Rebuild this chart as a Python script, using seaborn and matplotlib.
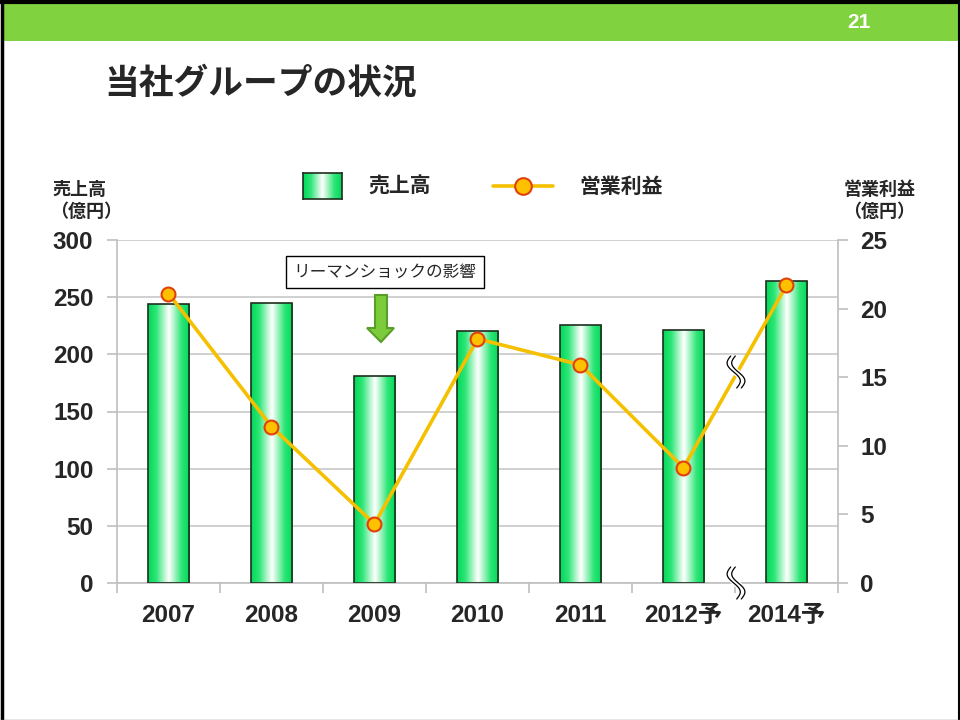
import numpy as np
import pandas as pd
import matplotlib
matplotlib.use("Agg")
import matplotlib.pyplot as plt
import matplotlib.patches as mpatches
from matplotlib.lines import Line2D
from matplotlib.colors import LinearSegmentedColormap
import seaborn as sns

## Data
years = ["2007", "2008", "2009", "2010", "2011", "2012予", "2014予"]
sales = [244, 245, 181, 220, 226, 221, 264]          # 売上高 (億円), left axis
profit = [21.1, 11.4, 4.3, 17.8, 15.9, 8.4, 21.7]    # 営業利益 (億円), right axis
left_ticks = [0, 50, 100, 150, 200, 250, 300]
right_ticks = [0, 5, 10, 15, 20, 25]

df = pd.DataFrame({"year": years, "sales": sales, "profit": profit})

## Style
sns.set_theme(style="white")
plt.rcParams["font.family"] = ["Liberation Sans", "Noto Sans CJK JP"]
plt.rcParams["font.weight"] = "bold"
cjk = ["Noto Sans CJK JP", "DejaVu Sans"]
grey = "#BFBFBF"

fig = plt.figure(figsize=(9.6, 7.2), dpi=100)


# helpers: pixel position -> figure fraction
def fx(x):
    return x / 960


def fy(y):
    return 1 - y / 720


# bar gradient (green edges, white centre)
bar_cmap = LinearSegmentedColormap.from_list(
    "bar", [(0, "#ffffff"), (0.22, "#b4f6cc"), (0.6, "#2fe678"), (1, "#00d858")])
grad = np.abs(np.linspace(-1, 1, 256))[None, :]

## Slide decoration
fig.add_artist(mpatches.Rectangle((fx(3), fy(41)), fx(958) - fx(3), fy(4) - fy(41),
                                  transform=fig.transFigure, color="#80D23F", lw=0))
fig.add_artist(Line2D([fx(1.5), fx(1.5)], [0, 1], transform=fig.transFigure,
                      color="black", lw=2.5))
fig.add_artist(Line2D([0, 1], [fy(2), fy(2)], transform=fig.transFigure,
                      color="black", lw=3))
fig.add_artist(Line2D([fx(959), fx(959)], [0, 1], transform=fig.transFigure,
                      color="black", lw=1.5))
fig.add_artist(Line2D([0, 1], [fy(719.5), fy(719.5)], transform=fig.transFigure,
                      color="#808080", lw=1))
fig.text(fx(859), fy(22), "21", color="white", fontsize=15, weight="bold",
         ha="center", va="center")
fig.text(fx(104), fy(83), "当社グループの状況", family=cjk, fontsize=25,
         weight="bold", ha="left", va="center")

## Main axes
ax = fig.add_axes([fx(117), fy(583), fx(838) - fx(117), fy(240) - fy(583)])
sns.barplot(data=df, x="year", y="sales", ax=ax, color="#00d858", saturation=1,
            width=0.4, edgecolor="#1e2e1e", linewidth=1.2)

for patch in ax.patches:
    bb = patch.get_bbox()
    im = ax.imshow(grad, extent=[bb.x0, bb.x1, bb.y0, bb.y1], aspect="auto",
                   cmap=bar_cmap, interpolation="bilinear", zorder=2)
    im.set_clip_path(patch)
    patch.set_facecolor("none")
    patch.set_zorder(3)

ax.set_xlim(-0.5, 6.5)
ax.set_ylim(0, 300)
ax.set_yticks(left_ticks)
ax.set_xticks(np.arange(-0.5, 7, 1), minor=True)
ax.yaxis.grid(True, color="#C8C8C8", lw=1.2)
ax.set_axisbelow(True)
ax.set_xlabel("")
ax.set_ylabel("")
ax.tick_params(axis="y", which="major", direction="out", length=7, width=1.2,
               color=grey, labelsize=17.5, pad=10, left=True)
ax.tick_params(axis="x", which="major", length=0, labelsize=17.5, pad=15)
ax.tick_params(axis="x", which="minor", direction="out", length=7, width=1.2,
               color=grey, bottom=True)
for s in ["top", "right"]:
    ax.spines[s].set_visible(False)
for s in ["left", "bottom"]:
    ax.spines[s].set_color(grey)
    ax.spines[s].set_linewidth(1.2)

## Operating profit line on the twin axis
ax2 = ax.twinx()
sns.pointplot(data=df, x="year", y="profit", ax=ax2, color="#F5C000",
              markers="o", linestyles="-", errorbar=None, linewidth=2.6,
              markersize=10, markerfacecolor="#FFC000",
              markeredgecolor="#E0400A", markeredgewidth=1.5)
ax2.set_xlim(-0.5, 6.5)
ax2.set_ylim(0, 25)
ax2.set_yticks(right_ticks)
ax2.set_ylabel("")
ax2.grid(False)
ax2.tick_params(axis="y", direction="out", length=7, width=1.2, color=grey,
                labelsize=17.5, pad=9, right=True)
for s in ["left", "top", "bottom"]:
    ax2.spines[s].set_visible(False)
ax2.spines["right"].set_color(grey)
ax2.spines["right"].set_linewidth(1.2)

## Axis titles
fig.text(fx(79), fy(189), "売上高", family=cjk, fontsize=13, weight="bold",
         ha="center", va="center")
fig.text(fx(86), fy(211), "（億円）", family=cjk, fontsize=13, weight="bold",
         ha="center", va="center")
fig.text(fx(880), fy(189), "営業利益", family=cjk, fontsize=13, weight="bold",
         ha="center", va="center")
fig.text(fx(879), fy(211), "（億円）", family=cjk, fontsize=13, weight="bold",
         ha="center", va="center")

## Legend
lax = fig.add_axes([fx(303), fy(199), fx(342) - fx(303), fy(173) - fy(199)])
lax.imshow(grad, aspect="auto", cmap=bar_cmap, interpolation="bilinear")
lax.set_xticks([])
lax.set_yticks([])
for s in lax.spines.values():
    s.set_color("#1e2e1e")
    s.set_linewidth(1.2)
fig.text(fx(368), fy(186), "売上高", family=cjk, fontsize=15, weight="bold",
         ha="left", va="center")
fig.add_artist(Line2D([fx(493), fx(553)], [fy(186), fy(186)], transform=fig.transFigure,
                      color="#F5C000", lw=2.6))
fig.add_artist(Line2D([fx(523)], [fy(186)], transform=fig.transFigure, marker="o",
                      markersize=12, markerfacecolor="#FFC000",
                      markeredgecolor="#E0400A", markeredgewidth=1.5))
fig.text(fx(579), fy(186), "営業利益", family=cjk, fontsize=15, weight="bold",
         ha="left", va="center")

## Lehman shock note and arrow
fig.text(fx(385), fy(272), "リーマンショックの影響", family=cjk, fontsize=12,
         weight="normal", ha="center", va="center",
         bbox=dict(boxstyle="square,pad=0.45", fc="white", ec="black", lw=1))
arrow_px = [(375, 295), (387, 295), (387, 328), (394, 328), (381, 342),
            (367, 328), (375, 328)]
fig.add_artist(mpatches.Polygon([(fx(x), fy(y)) for x, y in arrow_px], closed=True,
                                transform=fig.transFigure, fc="#7CCB3A",
                                ec="#5A9E2A", lw=1.5))


## Axis break marks
def break_mark(xc, yc):
    t = np.linspace(0, 1, 80)
    h = 32
    ys = yc - h / 2 + h * t
    xs = xc - 5 * np.sin(2 * np.pi * t) + 6 * (t - 0.5)
    fig.add_artist(Line2D([fx(v) for v in xs], [fy(v) for v in ys],
                          transform=fig.transFigure, color="white", lw=5,
                          solid_capstyle="butt"))
    for off in (-2.3, 2.3):
        fig.add_artist(Line2D([fx(v + off) for v in xs], [fy(v) for v in ys],
                              transform=fig.transFigure, color="black", lw=0.9))


break_mark(736, 372)
break_mark(736, 583)

plt.savefig("out.png", dpi=100)
